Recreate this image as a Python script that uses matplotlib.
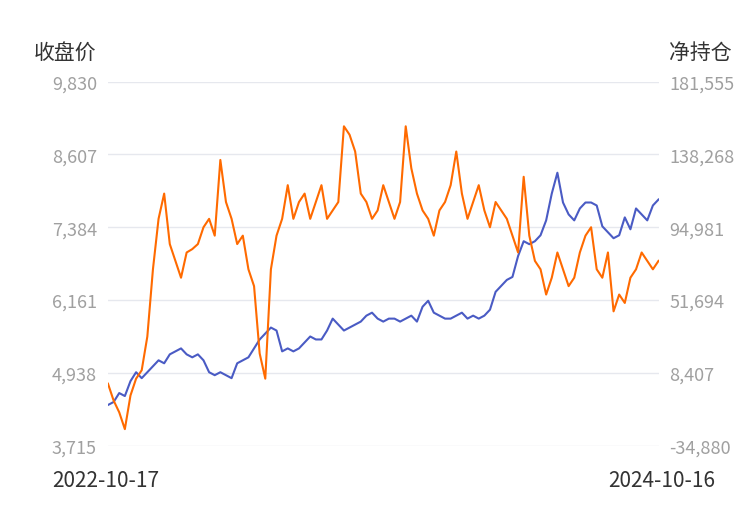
import matplotlib
matplotlib.use("Agg")
import matplotlib.pyplot as plt
import numpy as np

plt.rcParams["font.family"] = ["Noto Sans CJK SC", "DejaVu Sans"]

start_label, end_label = "2022-10-17", "2024-10-16"
left_ticks = [3715, 4938, 6161, 7384, 8607, 9830]
right_ticks = [-34880, 8407, 51694, 94981, 138268, 181555]

# closing price (left axis), sampled along the period
price = [4400, 4450, 4600, 4550, 4800, 4950, 4850, 4950, 5050, 5150, 5100, 5250, 5300,
         5350, 5250, 5200, 5250, 5150, 4950, 4900, 4950, 4900, 4850, 5100, 5150, 5200,
         5350, 5500, 5600, 5700, 5650, 5300, 5350, 5300, 5350, 5450, 5550, 5500, 5500,
         5650, 5850, 5750, 5650, 5700, 5750, 5800, 5900, 5950, 5850, 5800, 5850, 5850,
         5800, 5850, 5900, 5800, 6050, 6150, 5950, 5900, 5850, 5850, 5900, 5950, 5850,
         5900, 5850, 5900, 6000, 6300, 6400, 6500, 6550, 6900, 7150, 7100, 7150, 7250,
         7500, 7950, 8300, 7800, 7600, 7500, 7700, 7800, 7800, 7750, 7400, 7300, 7200,
         7250, 7550, 7350, 7700, 7600, 7500, 7750, 7850]

# net position (right axis)
netpos = [2000, -8000, -15000, -25000, -5000, 5000, 10000, 30000, 70000, 100000,
          115000, 85000, 75000, 65000, 80000, 82000, 85000, 95000, 100000, 90000,
          135000, 110000, 100000, 85000, 90000, 70000, 60000, 20000, 5000, 70000,
          90000, 100000, 120000, 100000, 110000, 115000, 100000, 110000, 120000, 100000,
          105000, 110000, 155000, 150000, 140000, 115000, 110000, 100000, 105000, 120000,
          110000, 100000, 110000, 155000, 130000, 115000, 105000, 100000, 90000, 105000,
          110000, 120000, 140000, 115000, 100000, 110000, 120000, 105000, 95000, 110000,
          105000, 100000, 90000, 80000, 125000, 90000, 75000, 70000, 55000, 65000,
          80000, 70000, 60000, 65000, 80000, 90000, 95000, 70000, 65000, 80000,
          45000, 55000, 50000, 65000, 70000, 80000, 75000, 70000, 75000]

fig = plt.figure(figsize=(7.5, 5.1), dpi=100)
ax = fig.add_axes([0.144, 0.124, 0.734, 0.714])
ax2 = ax.twinx()

x1 = np.arange(len(price))
x2 = np.linspace(0, len(price) - 1, len(netpos))
ax.plot(x1, price, color="#4a5bc4", lw=1.5)
ax2.plot(x2, netpos, color="#ff6a00", lw=1.5)

ax.set_ylim(left_ticks[0], left_ticks[-1])
ax2.set_ylim(right_ticks[0], right_ticks[-1])
ax.set_yticks(left_ticks)
ax.set_yticklabels([f"{v:,}" for v in left_ticks])
ax2.set_yticks(right_ticks)
ax2.set_yticklabels([f"{v:,}" for v in right_ticks])
ax.set_xlim(0, len(price) - 1)
ax.set_xticks([])
ax.grid(axis="y", color="#e6e8ee", lw=1)
for a in (ax, ax2):
    for s in a.spines.values():
        s.set_visible(False)
    a.tick_params(length=0, labelsize=13, colors="#a0a0a0", pad=8)

fig.text(0.07, 0.015 + 0.03, start_label, fontsize=15, color="#333333", ha="left")
fig.text(0.953, 0.045, end_label, fontsize=15, color="#333333", ha="right")
fig.text(0.045, 0.885, "收盘价", fontsize=15, color="#333333", ha="left")
fig.text(0.975, 0.885, "净持仓", fontsize=15, color="#333333", ha="right")

fig.savefig("out.png", dpi=100)
